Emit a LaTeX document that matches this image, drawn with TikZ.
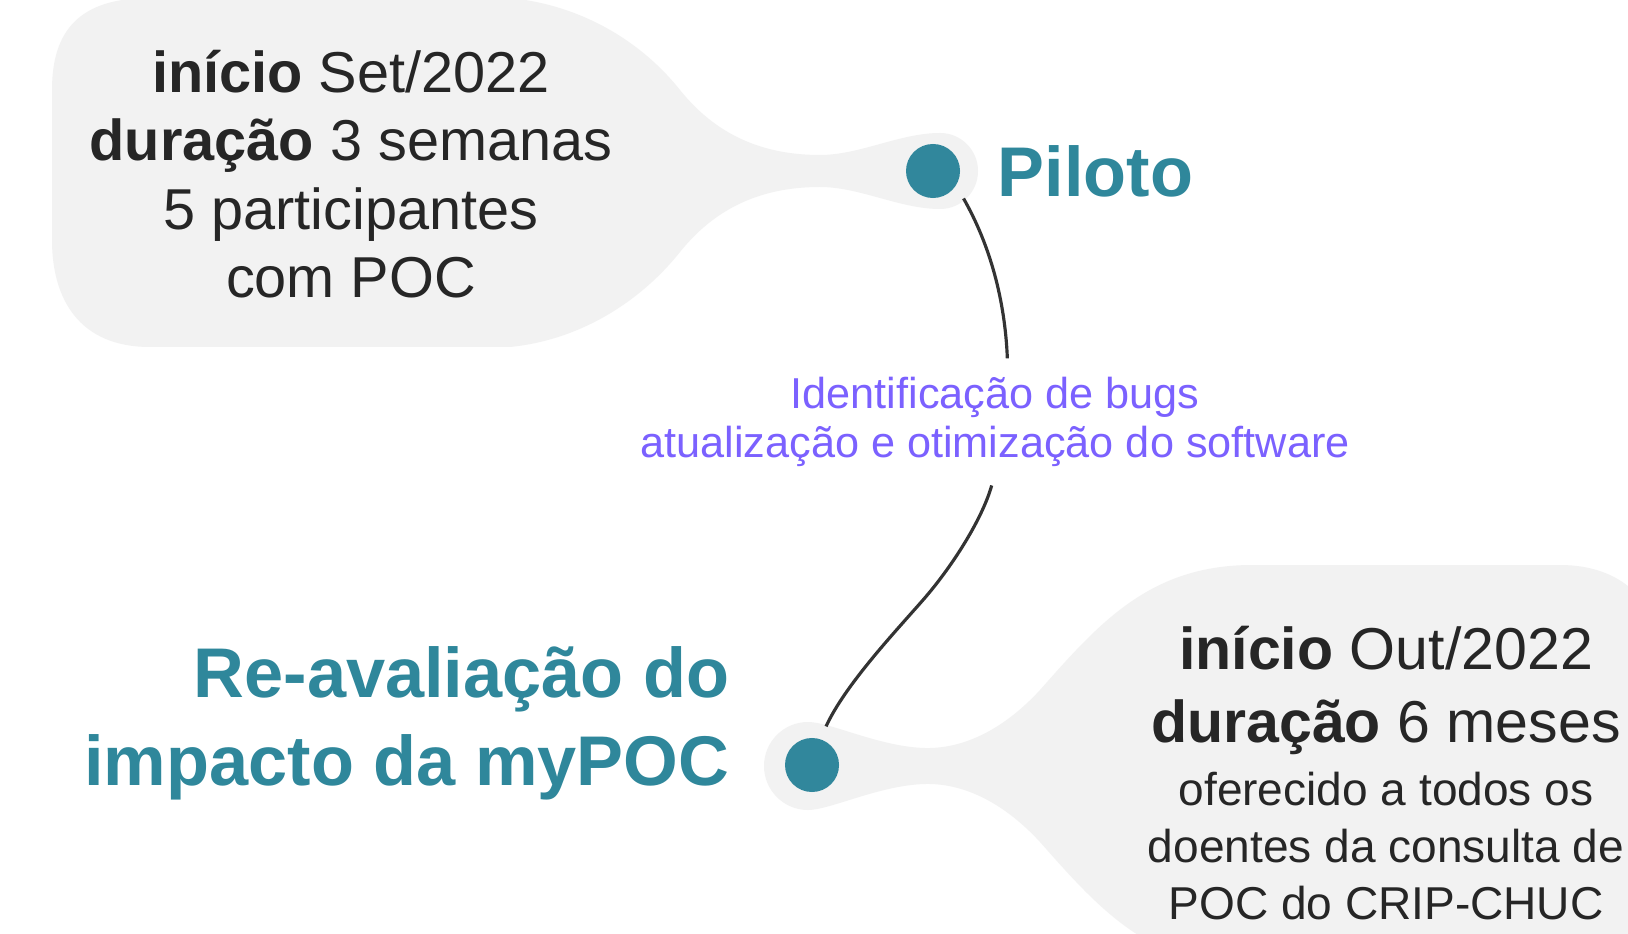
\documentclass[tikz,border=0pt]{standalone}
\usepackage{fontspec}
\setmainfont{Liberation Sans}
\usetikzlibrary{positioning}
\definecolor{blobgray}{HTML}{F2F2F2}
\definecolor{tealdot}{HTML}{31879C}
\definecolor{tealtext}{HTML}{2F879B}
\definecolor{bugpurple}{HTML}{7B61FF}
\definecolor{inktext}{HTML}{262626}
\tikzset{
  blob/.style={fill=blobgray},
  dot/.style={circle, fill=tealdot, minimum size=0.54cm, inner sep=0pt, outer sep=4pt},
  link/.style={draw=black!80, line width=0.9pt},
  title/.style={text=tealtext, font=\fontsize{20}{25}\selectfont\bfseries, inner sep=0pt},
  infotext/.style={text=inktext, align=center, inner sep=0pt},
}

\begin{document}
\begin{tikzpicture}[x=0.01cm, y=-0.01cm]
	\useasboundingbox (0,0) rectangle (1628,934);
	\clip (0,0) rectangle (1628,934);
	\fill[white] (0,0) rectangle (1628,934);
	% blobs
	\fill[blob] (150,-2) -- (510,-2) .. controls (580,5) and (640,40) .. (680,90) .. controls (720,140) and (770,155) .. (820,155) .. controls (860,155) and (900,133) .. (940,133) arc (-90:90:38) .. controls (900,209) and (860,187) .. (820,187) .. controls (770,187) and (720,202) .. (680,252) .. controls (640,302) and (580,340) .. (510,347) -- (150,347) .. controls (80,347) and (52,300) .. (52,240) -- (52,90) .. controls (52,30) and (80,-2) .. (150,-2) -- cycle;
	\fill[blob] (808,722) .. controls (830,722) and (880,747) .. (925,748) .. controls (965,749) and (1005,728) .. (1040,690) .. controls (1100,622) and (1150,566) .. (1250,565) -- (1560,565) .. controls (1620,565) and (1660,600) .. (1660,660) -- (1660,1000) -- (1300,1000) -- (1250,967) .. controls (1150,966) and (1100,910) .. (1040,842) .. controls (1005,804) and (965,783) .. (925,784) .. controls (880,785) and (830,810) .. (808,810) arc (90:270:44) -- cycle;
	% dots
	\node[dot] (pilotodot) at (933,171) {};
	\node[dot] (reavdot) at (812,765) {};
	% titles
	\node[title, anchor=base west] (piloto) at (997,197) {Piloto};
	\node[title, align=right, anchor=base east] (reav) at (730,785) {Re-avaliação do\\impacto da myPOC};
	% texts
	\node[infotext, font=\fontsize{16.4}{19.5}\selectfont, anchor=base] (pilotoinfo) at (351,298) {\textbf{início} Set/2022\\\textbf{duração} 3 semanas\\5 participantes\\com POC};
	\node[infotext, font=\fontsize{16.8}{20.5}\selectfont, anchor=base] (reavinfo) at (1386,742) {\textbf{início} Out/2022\\\textbf{duração} 6 meses};
	\node[infotext, font=\fontsize{13.1}{16.1}\selectfont, anchor=base] (reavpub) at (1386,919) {oferecido a todos os\\doentes da consulta de\\POC do CRIP-CHUC};
	\node[text=bugpurple, align=center, font=\fontsize{12.3}{14.2}\selectfont, inner sep=5pt, anchor=base] (bugs) at (995,458) {Identificação de bugs\\atualização e otimização do software};
	% connectors
	\draw[link] (pilotodot.-42) .. controls (990,245) and (1005,300) .. (bugs.79);
	\draw[link] (reavdot.70) .. controls (845,685) and (895,632) .. (923,600) .. controls (951,568) and (982,520) .. (bugs.-93);
\end{tikzpicture}
\end{document}
